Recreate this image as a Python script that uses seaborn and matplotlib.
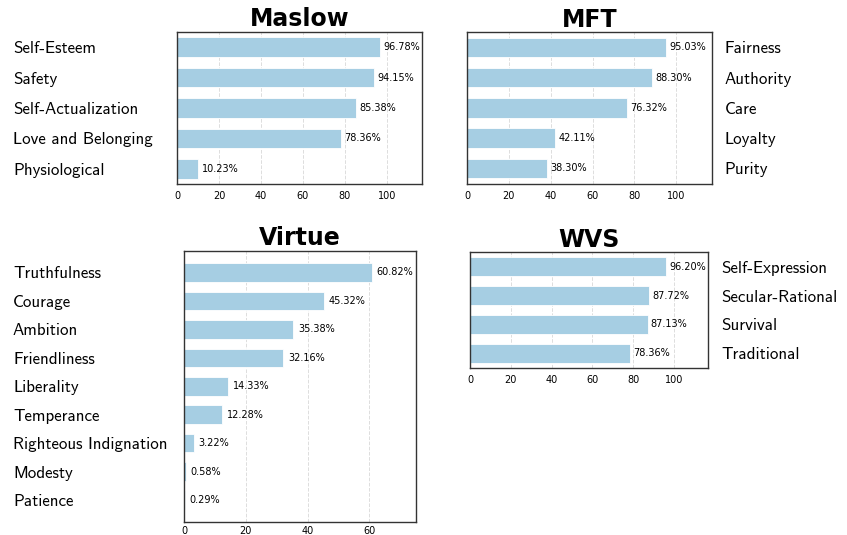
import matplotlib
matplotlib.use("Agg")
import matplotlib.pyplot as plt
import seaborn as sns
import pandas as pd

maslow_labels = ["Self-Esteem", "Safety", "Self-Actualization", "Love and Belonging", "Physiological"]
maslow_values = [96.78, 94.15, 85.38, 78.36, 10.23]

mft_labels = ["Fairness", "Authority", "Care", "Loyalty", "Purity"]
mft_values = [95.03, 88.30, 76.32, 42.11, 38.30]

virtue_labels = ["Truthfulness", "Courage", "Ambition", "Friendliness", "Liberality",
                 "Temperance", "Righteous Indignation", "Modesty", "Patience"]
virtue_values = [60.82, 45.32, 35.38, 32.16, 14.33, 12.28, 3.22, 0.58, 0.29]

wvs_labels = ["Self-Expression", "Secular-Rational", "Survival", "Traditional"]
wvs_values = [96.20, 87.72, 87.13, 78.36]

sns.set_style("white")
plt.rcParams['font.family'] = ['DejaVu Sans']
plt.rcParams['text.color'] = 'black'
plt.rcParams['xtick.color'] = 'black'
plt.rcParams['ytick.color'] = 'black'

W, H = 847, 535
fig = plt.figure(figsize=(W / 100, H / 100), dpi=100)

BAR_COLOR = "#a6cee3"
LABEL_FONT = "cmss10"


def rect(x0, x1, y0, y1):
    return [x0 / W, 1 - y1 / H, (x1 - x0) / W, (y1 - y0) / H]


panels = [
    ("Maslow", maslow_labels, maslow_values, rect(177, 422, 32, 184), 116.8, "left", 0.5, 3.1),
    ("MFT", mft_labels, mft_values, rect(467, 711.5, 32.3, 183.5), 116.8, "right", 0.5, 3.1),
    ("Virtue", virtue_labels, virtue_values, rect(184, 416, 251, 521.5), 75.1, "left", 0.75, 1.6),
    ("WVS", wvs_labels, wvs_values, rect(470, 708.3, 252.3, 367.7), 116.8, "right", 0.5, 3.1),
]

for title, labels, values, r, xmax, side, ymarg, xpad in panels:
    ax = fig.add_axes(r)
    df = pd.DataFrame({"label": labels, "value": values})
    sns.barplot(data=df, x="value", y="label", orient="h", color=BAR_COLOR,
                width=0.65, ax=ax, saturation=1, edgecolor="white", linewidth=0.6)
    ax.set_xlim(0, xmax)
    n = len(labels)
    ax.set_ylim(n - 1 + ymarg, -ymarg)
    ax.set_xlabel("")
    ax.set_ylabel("")
    ax.set_xticks(list(range(0, int(xmax) // 20 * 20 + 1, 20)))
    ax.tick_params(axis="x", labelsize=7, length=2, width=0.8, pad=xpad, colors="black")
    ax.grid(axis="x", linestyle="--", color="#dddddd", linewidth=0.7)
    ax.set_axisbelow(True)
    for s in ax.spines.values():
        s.set_visible(True)
        s.set_color("#333333")
        s.set_linewidth(1.0)

    ax.set_yticks(range(n))
    if side == "left":
        ax.set_yticklabels(labels, fontname=LABEL_FONT, fontsize=12.2, ha="left", color="black")
        left_px = r[0] * W
        pad_pt = (left_px - 13) * 72 / 100
        ax.tick_params(axis="y", length=0, pad=pad_pt)
    else:
        ax.yaxis.tick_right()
        ax.set_yticklabels(labels, fontname=LABEL_FONT, fontsize=12.2, ha="left", color="black")
        ax.tick_params(axis="y", length=0, pad=9.5)

    for i, v in enumerate(values):
        ax.text(v + 1.5, i, f"{v:.2f}%", va="center", ha="left", fontsize=7, color="black")

    ax.set_title(title, fontsize=17, fontweight="bold", pad=4, color="black")

fig.savefig("out.png", dpi=100)
